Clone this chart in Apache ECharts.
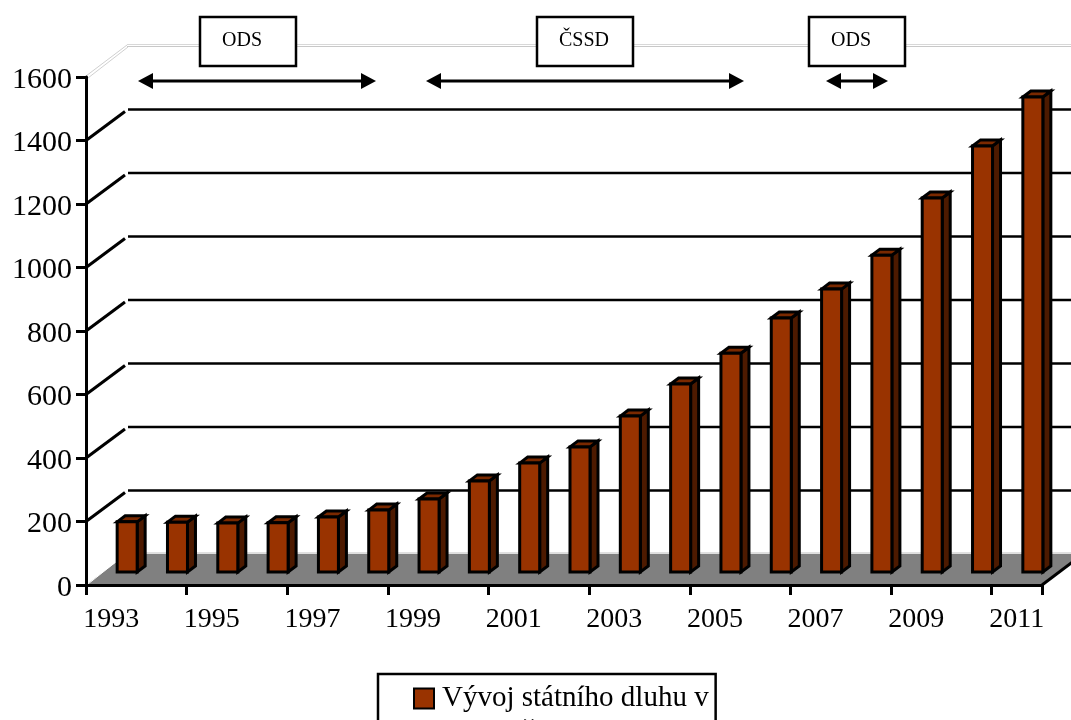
<!DOCTYPE html>
<html>
<head>
<meta charset="utf-8">
<style>
    html, body { margin: 0; padding: 0; background: #fff; }
    #main { width: 1071px; height: 720px; }
</style>
<script src="https://cdn.jsdelivr.net/npm/echarts@6/dist/echarts.min.js"></script>
</head>
<body>
<div id="main"></div>
<script>
    var years = ['1993', '1994', '1995', '1996', '1997', '1998', '1999', '2000', '2001', '2002',
        '2003', '2004', '2005', '2006', '2007', '2008', '2009', '2010', '2011'];
    var debt = [158, 157, 154, 155, 173, 195, 230, 287, 343, 394, 491, 592, 689, 800, 891, 998, 1178, 1342, 1496];
    var yTicks = [200, 400, 600, 800, 1000, 1200, 1400, 1600];
    var seriesName = 'Vývoj státního dluhu v mld. Kč';

    var FONT = '"Liberation Serif", "Times New Roman", serif';
    var DEPTH_X = 41, DEPTH_Y = 31;     // hloubka 3D podlahy
    var BAR_DX = 16, BAR_DY = 13;       // posun sloupce od osy
    var SIDE_X = 8, SIDE_Y = 6;         // hloubka sloupce
    var BAR_W = 20;

    //podlaha
    function renderFloor(params, api) {
        var rect = params.coordSys;
        var p0 = api.coord([0, 0]);
        var y0 = p0[1], x0 = rect.x, x1 = rect.x + rect.width;
        return {
            type: 'group',
            children: [{
                type: 'polygon',
                shape: {points: [[x0, y0], [x0 + DEPTH_X, y0 - DEPTH_Y], [x1 + DEPTH_X, y0 - DEPTH_Y], [x1, y0]]},
                style: {fill: '#808080'}
            }, {
                type: 'line',
                shape: {x1: x0 + 2, y1: y0 - 1, x2: x0 + DEPTH_X, y2: y0 - DEPTH_Y - 1},
                style: {stroke: '#fff', lineWidth: 1}
            }, {
                type: 'line',
                shape: {x1: x0 + DEPTH_X, y1: y0 - DEPTH_Y - 1, x2: x1 + DEPTH_X, y2: y0 - DEPTH_Y - 1},
                style: {stroke: '#c0c0c0', lineWidth: 1}
            }, {
                type: 'line',
                shape: {x1: x1, y1: y0, x2: x1 + DEPTH_X, y2: y0 - DEPTH_Y},
                style: {stroke: '#000', lineWidth: 3}
            }]
        };
    }

    //mrizka na zadni stene
    function renderWall(params, api) {
        var rect = params.coordSys;
        var v = api.value(0);
        var y = api.coord([0, v])[1];
        var x0 = rect.x, x1 = rect.x + rect.width;
        if (v === 1600) {
            // horni hrana je svetla dvojita cara
            return {
                type: 'group',
                children: [
                    {type: 'line', shape: {x1: x0, y1: y - 1, x2: x0 + DEPTH_X, y2: y - DEPTH_Y - 1}, style: {stroke: '#d0d0d0', lineWidth: 1}},
                    {type: 'line', shape: {x1: x0 + 2, y1: y + 1, x2: x0 + DEPTH_X + 1, y2: y - DEPTH_Y + 1}, style: {stroke: '#d0d0d0', lineWidth: 1}},
                    {type: 'line', shape: {x1: x0 + DEPTH_X, y1: y - DEPTH_Y - 1.5, x2: x1 + DEPTH_X, y2: y - DEPTH_Y - 1.5}, style: {stroke: '#d8d8d8', lineWidth: 1}},
                    {type: 'line', shape: {x1: x0 + DEPTH_X, y1: y - DEPTH_Y + 0.5, x2: x1 + DEPTH_X, y2: y - DEPTH_Y + 0.5}, style: {stroke: '#c8c8c8', lineWidth: 1}}
                ]
            };
        }
        return {
            type: 'group',
            children: [
                {type: 'line', shape: {x1: x0, y1: y, x2: x0 + DEPTH_X - 2, y2: y - DEPTH_Y + 2}, style: {stroke: '#000', lineWidth: 3}},
                {type: 'line', shape: {x1: x0 + DEPTH_X + 1, y1: y - DEPTH_Y, x2: x1 + DEPTH_X, y2: y - DEPTH_Y}, style: {stroke: '#000', lineWidth: 2.5}}
            ]
        };
    }

    //3D sloupec
    function renderBar(params, api) {
        var top = api.coord([api.value(0), api.value(1)]);
        var base = api.coord([api.value(0), 0]);
        var l = top[0] + BAR_DX - BAR_W / 2, r = l + BAR_W;
        var t = top[1] - BAR_DY, b = base[1] - BAR_DY;
        var line = {stroke: '#000', lineWidth: 3, lineJoin: 'miter'};
        return {
            type: 'group',
            children: [{
                type: 'polygon',
                shape: {points: [[r, t], [r + SIDE_X, t - SIDE_Y], [r + SIDE_X, b - SIDE_Y], [r, b]]},
                style: Object.assign({fill: '#4d1a00'}, line)
            }, {
                type: 'polygon',
                shape: {points: [[l, t], [l + SIDE_X, t - SIDE_Y], [r + SIDE_X, t - SIDE_Y], [r, t]]},
                style: Object.assign({fill: '#7a2900'}, line)
            }, {
                type: 'rect',
                shape: {x: l, y: t, width: BAR_W, height: b - t},
                style: Object.assign({fill: '#993300'}, line)
            }]
        };
    }

    //popisek s obdelnikem
    function partyBox(x, label) {
        return {
            type: 'group',
            z: 100,
            children: [{
                type: 'rect',
                z: 100,
                shape: {x: x, y: 17, width: 96, height: 49},
                style: {fill: '#fff', stroke: '#000', lineWidth: 2.5}
            }, {
                type: 'text',
                z: 101,
                style: {x: x + 22, y: 41, text: label, fill: '#000', font: '20px ' + FONT, verticalAlign: 'middle'}
            }]
        };
    }

    //sipka na obe strany
    function periodArrow(x1, x2) {
        var y = 81, head = 15, half = 8;
        return {
            type: 'group',
            z: 100,
            children: [{
                type: 'line',
                z: 100,
                shape: {x1: x1 + head, y1: y, x2: x2 - head, y2: y},
                style: {stroke: '#000', lineWidth: 3}
            }, {
                type: 'polygon',
                z: 100,
                shape: {points: [[x1, y], [x1 + head, y - half], [x1 + head, y + half]]},
                style: {fill: '#000'}
            }, {
                type: 'polygon',
                z: 100,
                shape: {points: [[x2, y], [x2 - head, y - half], [x2 - head, y + half]]},
                style: {fill: '#000'}
            }]
        };
    }

    var myChart = echarts.init(document.getElementById('main'));
    var option = {
        animation: false,
        backgroundColor: '#fff',
        textStyle: {fontFamily: FONT},
        grid: {left: 86, right: 29, top: 77, bottom: 135, containLabel: false},
        xAxis: {
            type: 'category',
            data: years,
            z: 10,
            axisLine: {lineStyle: {color: '#000', width: 3}},
            axisTick: {show: true, alignWithLabel: false, length: 10, lineStyle: {color: '#000', width: 3}},
            axisLabel: {interval: 1, color: '#000', fontSize: 28, fontFamily: FONT, margin: 21}
        },
        yAxis: {
            type: 'value',
            min: 0,
            max: 1600,
            interval: 200,
            z: 10,
            axisLine: {show: true, lineStyle: {color: '#000', width: 3}},
            axisTick: {show: true, length: 10, lineStyle: {color: '#000', width: 3}},
            axisLabel: {
                color: '#000',
                fontSize: 30,
                fontFamily: FONT,
                margin: 14,
                verticalAlign: 'top',
                padding: [-12, 0, 0, 0],
                formatter: function (v) {
                    return String(v);
                }
            },
            splitLine: {show: false}
        },
        legend: {
            left: 378,
            top: 674,
            orient: 'vertical',
            padding: [10, 7, 60, 35],
            borderColor: '#000',
            borderWidth: 2.5,
            backgroundColor: '#fff',
            itemWidth: 20,
            itemHeight: 20,
            itemGap: 0,
            data: [{
                name: seriesName,
                icon: 'rect',
                itemStyle: {color: '#993300', borderColor: '#000', borderWidth: 2}
            }],
            formatter: function () {
                return 'Vývoj státního dluhu v';
            },
            textStyle: {color: '#000', fontSize: 29, fontFamily: FONT, padding: [0, 0, 0, 3]}
        },
        graphic: [
            partyBox(200, 'ODS'),
            partyBox(537, 'ČSSD'),
            partyBox(809, 'ODS'),
            periodArrow(138, 376),
            periodArrow(426, 744),
            periodArrow(826, 888),
            {
                type: 'text',
                z: 200,
                style: {x: 441, y: 718, text: 'mld. Kč', fill: '#000', font: '29px ' + FONT}
            }
        ],
        series: [{
            type: 'custom',
            name: 'podlaha',
            z: 1,
            silent: true,
            renderItem: renderFloor,
            data: [0]
        }, {
            type: 'custom',
            name: 'mrizka',
            z: 1,
            silent: true,
            renderItem: renderWall,
            data: yTicks.map(function (v) {
                return [v];
            })
        }, {
            type: 'custom',
            name: seriesName,
            z: 3,
            renderItem: renderBar,
            encode: {x: 0, y: 1},
            data: debt.map(function (v, i) {
                return [i, v];
            })
        }]
    };
    myChart.setOption(option);
</script>
</body>
</html>
